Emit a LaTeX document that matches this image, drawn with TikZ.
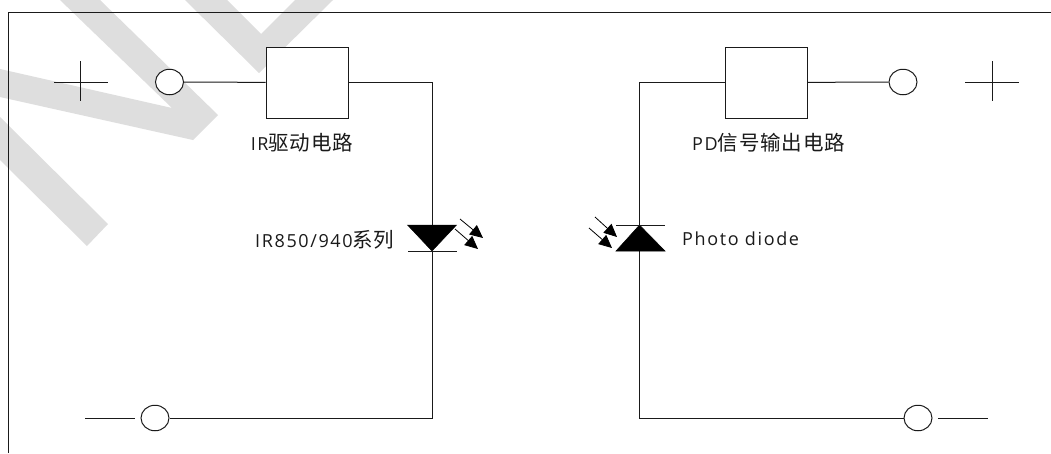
\documentclass[tikz,border=0pt]{standalone}
\usepackage{fontspec}
\setmainfont[LetterSpace=9]{Open Sans}
\newfontfamily\cjk[LetterSpace=4,Scale=1.14]{Noto Sans CJK SC}
\usetikzlibrary{shapes.geometric,arrows.meta}
\definecolor{wm}{HTML}{DEDEDE}
\definecolor{ink}{HTML}{1A1A1A}
\tikzset{
  wire/.style={draw=ink,line width=1pt},
  term/.style={ellipse,draw=ink,line width=1pt,fill=white,minimum width=28pt,minimum height=25.5pt,inner sep=0pt},
  block/.style={rectangle,draw=ink,line width=1pt,fill=white,minimum width=82pt,minimum height=71pt,inner sep=0pt},
  lbl/.style={text=ink,font=\fontsize{18pt}{20pt}\selectfont,inner sep=0pt},
  ray/.style={draw=black,line width=.8pt,-{Triangle[length=13pt,width=12pt]}},
  diode/.style={fill=black,draw=black,line width=.5pt}
}
\begin{document}
\begin{tikzpicture}[x=1pt,y=-1pt]
\useasboundingbox (0,0) rectangle (1051,453);
\fill[white] (0,0) rectangle (1051,453);
% watermark
\fill[wm] (0,117) -- (108,224) -- (87,246) -- (0,160) -- cycle;
\fill[wm] (60,0) -- (172,108) -- (0,69) -- (0,97) -- (193,140) -- (218,115) -- (100,0) -- cycle;
\fill[wm] (185,0) -- (259,73) -- (333,0) -- (295,0) -- (261,34) -- (227,0) -- cycle;
% frame
\coordinate (fa) at (8,453);
\coordinate (fb) at (8,12);
\coordinate (fc) at (1051,12);
\draw[wire] (fa) -- (fb) -- (fc);
% terminals
\node[term] (t1) at (169.5,82) {};
\node[term] (t2) at (903,82) {};
\node[term] (t3) at (155,418) {};
\node[term] (t4) at (918,418) {};
% blocks
\node[block] (b1) at (307,82.5) {};
\node[block] (b2) at (766,82.5) {};
% corners and diode points
\coordinate (c1) at (432,82);
\coordinate (c2) at (432,418);
\coordinate (c3) at (639.5,82);
\coordinate (c4) at (639.5,418);
\coordinate (dla) at (432,225);
\coordinate (dlb) at (432,251);
\coordinate (dra) at (639.5,225);
\coordinate (drb) at (639.5,251);
% wires
\draw[wire] (t1) -- (b1);
\draw[wire] (b1.east |- c1) -- (c1) -- (dla);
\draw[wire] (dlb) -- (c2) -- (t3);
\draw[wire] (t2) -- (b2);
\draw[wire] (b2.west |- c3) -- (c3) -- (dra);
\draw[wire] (drb) -- (c4) -- (t4);
% free leads
\coordinate (l3) at (85,418);
\coordinate (l3b) at (135,418);
\coordinate (l4) at (938,418);
\coordinate (l4b) at (988,418);
\draw[wire] (l3) -- (l3b);
\draw[wire] (l4) -- (l4b);
% plus signs
\coordinate (p1a) at (54,82);
\coordinate (p1b) at (108,82);
\coordinate (p1c) at (80.5,61);
\coordinate (p1d) at (80.5,101);
\coordinate (p2a) at (965,82);
\coordinate (p2b) at (1019,82);
\coordinate (p2c) at (992,61);
\coordinate (p2d) at (992,101);
\draw[wire] (p1a) -- (p1b);
\draw[wire] (p1c) -- (p1d);
\draw[wire] (p2a) -- (p2b);
\draw[wire] (p2c) -- (p2d);
% IR LED
\coordinate (dl1) at (407.5,225);
\coordinate (dl2) at (456.5,225);
\coordinate (dl3) at (408,251);
\coordinate (dl4) at (457,251);
\fill[diode] (dl1) -- (dl2) -- (dlb) -- cycle;
\draw[wire] (dl3) -- (dl4);
\coordinate (ra1) at (460,219);
\coordinate (ra2) at (483,238);
\coordinate (ra3) at (455,229);
\coordinate (ra4) at (478,249);
\draw[ray] (ra1) -- (ra2);
\draw[ray] (ra3) -- (ra4);
% photodiode
\coordinate (dr1) at (616,251);
\coordinate (dr2) at (665,251);
\coordinate (dr3) at (616,225);
\coordinate (dr4) at (665,225);
\fill[diode] (dr1) -- (dr2) -- (dra) -- cycle;
\draw[wire] (dr3) -- (dr4);
\coordinate (rb1) at (595,217);
\coordinate (rb2) at (617,237);
\coordinate (rb3) at (589,228);
\coordinate (rb4) at (612,248);
\draw[ray] (rb1) -- (rb2);
\draw[ray] (rb3) -- (rb4);
% labels
\node[lbl] (n1) at (302,143) {IR{\cjk 驱动电路}};
\node[lbl] (n2) at (768.5,143) {PD{\cjk 信号输出电路}};
\node[lbl,anchor=west] (n3) at (255,240) {IR850/940{\cjk 系列}};
\node[lbl,anchor=west] (n4) at (682,239) {Photo diode};
\end{tikzpicture}
\end{document}
